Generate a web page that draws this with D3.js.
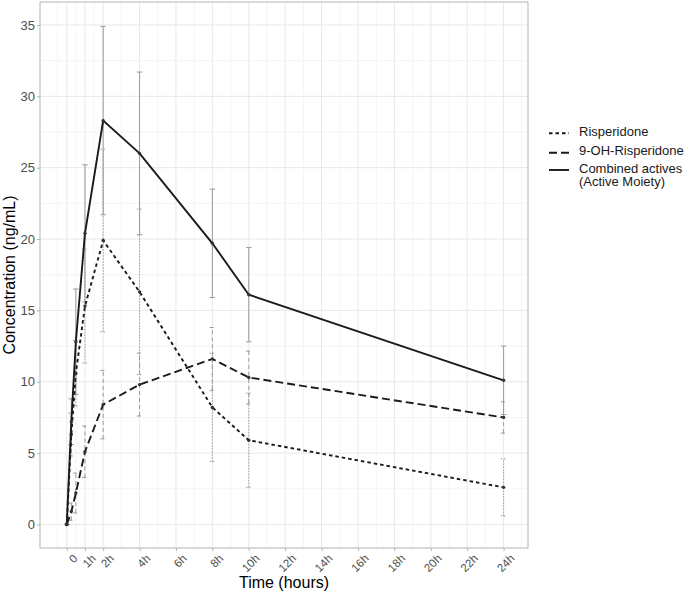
<!DOCTYPE html>
<html lang="en">
  <head>
    <meta charset="UTF-8" />
    <title>Risperidone concentration</title>
    <script src="https://cdn.jsdelivr.net/npm/d3@7"></script>
  </head>
  <body>
    <svg></svg>
    <style>
      body {
        margin: 0;
        background: #fff;
      }
      svg {
        display: block;
        font-family: "Liberation Sans", Arial, sans-serif;
      }
    </style>
    <script>
      const width = 685;
      const height = 595;

      // time points in hours and mean (sd) concentrations
      const times = [0, 0.25, 0.5, 1, 2, 4, 8, 10, 24];
      const risperidone = [0, 6.3, 10.6, 15.3, 19.9, 16.3, 8.2, 5.9, 2.6];
      const risperidoneSd = [0, 1.5, 2.3, 4.0, 6.4, 5.8, 3.8, 3.3, 2.0];
      const hydroxy = [0, 0.9, 2.2, 5.1, 8.4, 9.8, 11.6, 10.3, 7.5];
      const hydroxySd = [0, 0.6, 1.4, 1.8, 2.4, 2.2, 2.2, 1.85, 1.1];
      const combined = [0, 7.2, 12.8, 20.4, 28.3, 26.0, 19.7, 16.1, 10.1];
      const combinedSd = [0, 1.6, 3.7, 4.8, 6.6, 5.7, 3.8, 3.3, 2.4];

      const xTicks = [0, 1, 2, 4, 6, 8, 10, 12, 14, 16, 18, 20, 22, 24];
      const xMinor = [-0.5, 0.5, 1.5, 3, 5, 7, 9, 11, 13, 15, 17, 19, 21, 23, 25];
      const yTicks = [0, 5, 10, 15, 20, 25, 30, 35];
      const yMinor = [2.5, 7.5, 12.5, 17.5, 22.5, 27.5, 32.5];

      const seriesNames = ["Risperidone", "9-OH-Risperidone", "Combined actives"];
      const seriesValues = [risperidone, hydroxy, combined];
      const seriesSd = [risperidoneSd, hydroxySd, combinedSd];
      const lineDash = ["3.5,3", "8,4", null];
      const barDash = ["1.5,1.5", "4,3", null];

      const panel = { left: 40, right: 528, top: 2, bottom: 548 };
      const x = d3.scaleLinear().domain([-1.47, 25.34]).range([panel.left, panel.right]);
      const y = d3.scaleLinear().domain([-1.65, 36.61]).range([panel.bottom, panel.top]);

      const svg = d3.select("svg").attr("width", width).attr("height", height);

      // grid
      const grid = svg.append("g");
      grid.selectAll(".ymin").data(yMinor).join("line")
        .attr("x1", panel.left).attr("x2", panel.right)
        .attr("y1", d => y(d)).attr("y2", d => y(d))
        .attr("stroke", "#f4f4f4");
      grid.selectAll(".xmin").data(xMinor).join("line")
        .attr("y1", panel.top).attr("y2", panel.bottom)
        .attr("x1", d => x(d)).attr("x2", d => x(d))
        .attr("stroke", "#f4f4f4");
      grid.selectAll(".ymaj").data(yTicks).join("line")
        .attr("x1", panel.left).attr("x2", panel.right)
        .attr("y1", d => y(d)).attr("y2", d => y(d))
        .attr("stroke", "#e8e8e8");
      grid.selectAll(".xmaj").data(xTicks).join("line")
        .attr("y1", panel.top).attr("y2", panel.bottom)
        .attr("x1", d => x(d)).attr("x2", d => x(d))
        .attr("stroke", "#e8e8e8");

      // axes
      const yAxis = svg.append("g")
        .attr("transform", `translate(${panel.left},0)`)
        .call(d3.axisLeft(y).tickValues(yTicks).tickSize(3).tickPadding(2));
      yAxis.select(".domain").remove();
      yAxis.selectAll("line").attr("stroke", "#b3b3b3");
      yAxis.selectAll("text").attr("fill", "#4d4d4d").style("font-size", "13px")
        .style("font-family", "Liberation Sans, Arial, sans-serif");

      const xAxis = svg.append("g")
        .attr("transform", `translate(0,${panel.bottom})`)
        .call(d3.axisBottom(x).tickValues(xTicks).tickSize(3)
          .tickFormat(d => (d === 0 ? "0" : d + "h")));
      xAxis.select(".domain").remove();
      xAxis.selectAll("line").attr("stroke", "#b3b3b3");
      xAxis.selectAll("text")
        .attr("fill", "#4d4d4d")
        .style("font-size", "11.5px")
        .style("font-family", "Liberation Sans, Arial, sans-serif")
        .attr("text-anchor", "end")
        .attr("y", 0).attr("dy", "0.75em")
        .attr("transform", "translate(5,5) rotate(-45)");

      svg.append("rect")
        .attr("x", panel.left).attr("y", panel.top)
        .attr("width", panel.right - panel.left).attr("height", panel.bottom - panel.top)
        .attr("fill", "none").attr("stroke", "#b3b3b3");

      // error bars
      const capHalf = 0.15;
      seriesValues.forEach((vals, s) => {
        const sd = seriesSd[s];
        const g = svg.append("g")
          .attr("stroke", "#9a9a9a").attr("stroke-width", 1)
          .attr("stroke-dasharray", barDash[s]);
        const rows = times.map((t, i) => ({ t, lo: vals[i] - sd[i], hi: vals[i] + sd[i] }));
        g.selectAll(".v").data(rows).join("line")
          .attr("x1", d => x(d.t)).attr("x2", d => x(d.t))
          .attr("y1", d => y(d.lo)).attr("y2", d => y(d.hi));
        g.selectAll(".top").data(rows).join("line")
          .attr("x1", d => x(d.t - capHalf)).attr("x2", d => x(d.t + capHalf))
          .attr("y1", d => y(d.hi)).attr("y2", d => y(d.hi));
        g.selectAll(".bot").data(rows).join("line")
          .attr("x1", d => x(d.t - capHalf)).attr("x2", d => x(d.t + capHalf))
          .attr("y1", d => y(d.lo)).attr("y2", d => y(d.lo));
      });

      // lines and points
      const line = d3.line().x(d => x(d[0])).y(d => y(d[1]));
      seriesValues.forEach((vals, s) => {
        const pts = times.map((t, i) => [t, vals[i]]);
        svg.append("path")
          .datum(pts)
          .attr("d", line)
          .attr("fill", "none")
          .attr("stroke", "#1a1a1a")
          .attr("stroke-width", 1.9)
          .attr("stroke-dasharray", lineDash[s]);
        svg.append("g").selectAll("circle").data(pts).join("circle")
          .attr("cx", d => x(d[0])).attr("cy", d => y(d[1]))
          .attr("r", 1.7).attr("fill", "#333");
      });

      // axis titles
      svg.append("text")
        .attr("transform", `translate(15,${(panel.top + panel.bottom) / 2}) rotate(-90)`)
        .attr("text-anchor", "middle")
        .style("font-size", "16px")
        .text("Concentration (ng/mL)");
      svg.append("text")
        .attr("x", (panel.left + panel.right) / 2).attr("y", 588)
        .attr("text-anchor", "middle")
        .style("font-size", "16px")
        .text("Time (hours)");

      // legend
      const legendY = [133.3, 152.7, 170];
      const legend = svg.append("g");
      seriesNames.forEach((name, s) => {
        legend.append("line")
          .attr("x1", 549).attr("x2", 569)
          .attr("y1", legendY[s]).attr("y2", legendY[s])
          .attr("stroke", "#1a1a1a").attr("stroke-width", 1.9)
          .attr("stroke-dasharray", lineDash[s]);
        legend.append("text")
          .attr("x", 579).attr("y", legendY[s] + 2.5)
          .style("font-size", "13px").attr("fill", "#1a1a1a")
          .text(name);
      });
      legend.append("text")
        .attr("x", 579).attr("y", 186)
        .style("font-size", "13px").attr("fill", "#1a1a1a")
        .text("(Active Moiety)");
    </script>
  </body>
</html>
